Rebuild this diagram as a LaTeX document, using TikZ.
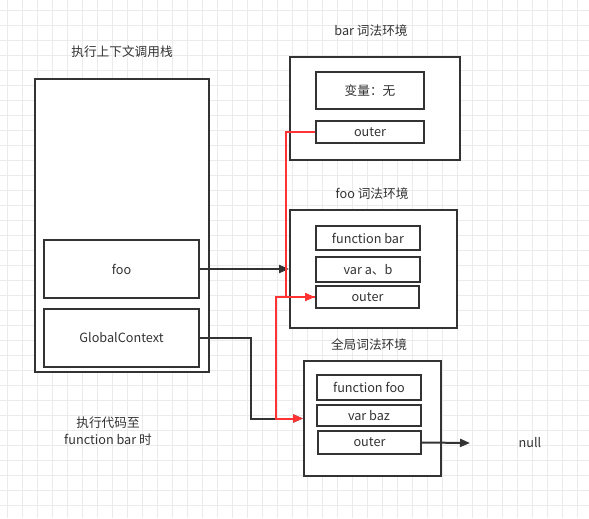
\documentclass[tikz,border=0pt]{standalone}
\usepackage{fontspec}
\setmainfont{Noto Sans CJK SC}
\usetikzlibrary{fit,arrows.meta}
\definecolor{ln}{HTML}{333333}
\definecolor{rd}{HTML}{FF3333}
\definecolor{gridc}{HTML}{EBEBEB}
\tikzset{
  box/.style={draw=ln, line width=1.5pt, fill=white, inner sep=0pt},
  lbl/.style={text=ln, font=\fontsize{9.5}{12.4}\selectfont, inner sep=0pt, align=center},
  conn/.style={draw=ln, line width=1.5pt},
  rconn/.style={draw=rd, line width=1.5pt},
  tip/.style={-{Triangle[length=7.5pt,width=6pt]}}
}
\begin{document}
\begin{tikzpicture}[x=0.75pt,y=-0.75pt]
\useasboundingbox (0,0) rectangle (589,518);
\fill[white] (0,0) rectangle (589,518);
% grid
\foreach \i in {0,...,38} {\draw[gridc, line width=0.75pt] ({7+15*\i},0) -- ({7+15*\i},518);}
\foreach \j in {0,...,34} {\draw[gridc, line width=0.75pt] (0,{10+15*\j}) -- (589,{10+15*\j});}

% execution context stack
\node[lbl] (stackTitle) at (122,52) {执行上下文调用栈};
\node[box, fit={(35,79)(209,372)}] (stack) {};
\node[box, fit={(44,240)(199,298)}] (fooCtx) {};
\node[lbl] (fooCtxT) at (fooCtx.center) {foo};
\node[box, fit={(44,309)(199,367)}] (globalCtx) {};
\node[lbl] (globalCtxT) at (globalCtx.center) {GlobalContext};
\node[lbl] (note) at (108,431) {执行代码至\\function bar 时};

% bar environment
\node[lbl] (barTitle) at (371,31) {bar 词法环境};
\node[box, fit={(290,57)(460,160)}] (barEnv) {};
\node[box, fit={(316,72)(424,109)}] (barVars) {};
\node[lbl] (barVarsT) at (barVars.center) {变量：无};
\node[box, fit={(316,121)(424,143)}] (barOuter) {};
\node[lbl] (barOuterT) at (barOuter.center) {outer};

% foo environment
\node[lbl] (fooTitle) at (372,194) {foo 词法环境};
\node[box, fit={(290,210)(457,328)}] (fooEnv) {};
\node[box, fit={(316,226)(420,250)}] (fooFn) {};
\node[lbl] (fooFnT) at (fooFn.center) {function bar};
\node[box, fit={(316,257)(420,282)}] (fooVars) {};
\node[lbl] (fooVarsT) at (fooVars.center) {var a、b};
\node[box, fit={(316,286)(419,308)}] (fooOuter) {};
\node[lbl] (fooOuterT) at (fooOuter.center) {outer};

% global environment
\node[lbl] (globalTitle) at (369,345) {全局词法环境};
\node[box, fit={(304,361)(441,476)}] (globalEnv) {};
\node[box, fit={(317,375)(421,400)}] (gFn) {};
\node[lbl] (gFnT) at (gFn.center) {function foo};
\node[box, fit={(317,405)(421,426)}] (gVars) {};
\node[lbl] (gVarsT) at (gVars.center) {var baz};
\node[box, fit={(318,431)(421,454)}] (gOuter) {};
\node[lbl] (gOuterT) at (gOuter.center) {outer};
\node[lbl] (nullLbl) at (530,443) {null};

% connectors
\coordinate (gBend) at (251,338);
\coordinate (r1) at (286,132);
\coordinate (r2) at (276,297);
\coordinate (nullTip) at (470,443);

\draw[conn, tip] (fooCtx.east) -- (fooEnv.west);
\draw[conn, tip] (globalCtx.east) -- (gBend) |- (globalEnv.west);
\draw[conn, tip] (gOuter.east) -- (nullTip);
\draw[rconn, tip] (barOuter.west) -- (r1) |- (fooOuter.west);
\draw[rconn, tip] (fooOuter.west) -- (r2) |- (globalEnv.west);
\end{tikzpicture}
\end{document}
